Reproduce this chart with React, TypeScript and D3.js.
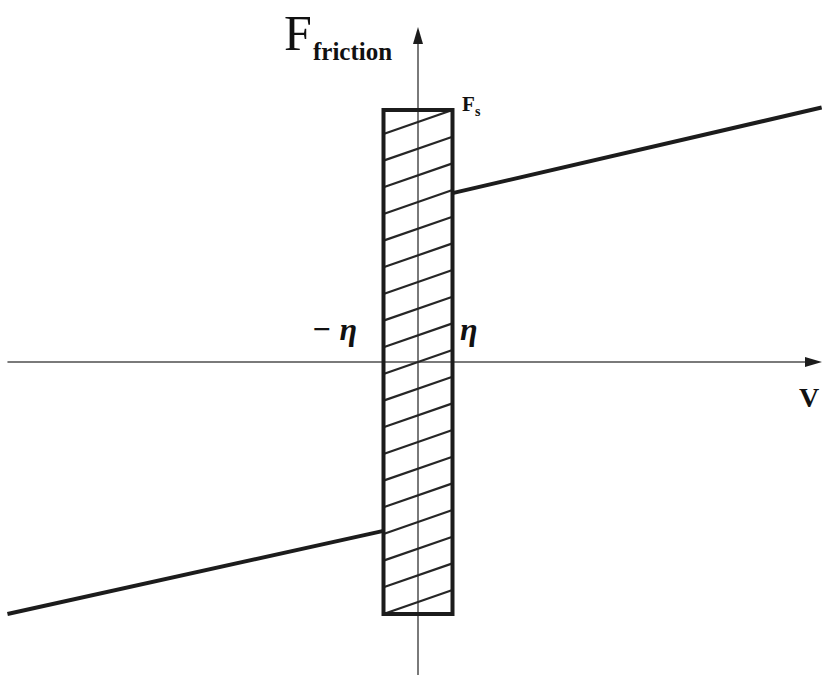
import React from "react";
import * as d3 from "d3";

// Friction model: static band of width 2η and kinetic branches outside it
const velocityExtent: [number, number] = [-11.9, 11.7];
const eta = 1;
const staticFriction = 10; // F_s
const kineticPositive: [number, number][] = [
  [1, 6.7],
  [11.7, 10.1],
];
const kineticNegative: [number, number][] = [
  [-1, -6.7],
  [-11.9, -10],
];
const hatchCount = 19;
const hatchRise = 0.95; // rise of each hatch stroke across the band

const W = 822;
const H = 675;
const serif = "'Liberation Serif', 'Times New Roman', 'DejaVu Serif', serif";

export default function App() {
  const x = d3.scaleLinear().domain([-12, 12]).range([418 - 12 * 34.5, 418 + 12 * 34.5]);
  const y = d3.scaleLinear().domain([-10, 10]).range([614, 110]);
  const line = d3
    .line<[number, number]>()
    .x((d) => x(d[0]))
    .y((d) => y(d[1]));

  const x0 = x(0);
  const y0 = y(0);
  const bx0 = x(-eta);
  const bx1 = x(eta);
  const by0 = y(staticFriction);
  const by1 = y(-staticFriction);

  const step = (2 * staticFriction - hatchRise) / (hatchCount - 1);
  const hatches = d3.range(hatchCount).map((k) => -staticFriction + k * step);

  const axisColor = "#7a7a7a";
  const ink = "#1c1c1c";
  const txt = { fontFamily: serif, fill: "#111" } as React.CSSProperties;

  return (
    <svg
      width={W}
      height={H}
      style={{ position: "absolute", left: 0, top: 0, background: "#fff" }}
    >
      <defs>
        <clipPath id="band">
          <rect x={bx0} y={by0} width={bx1 - bx0} height={by1 - by0} />
        </clipPath>
      </defs>

      {/* axes */}
      <line x1={x(velocityExtent[0])} y1={y0} x2={W - 16} y2={y0} stroke={axisColor} strokeWidth={2} />
      <path d={`M${W},${y0} L${W - 17},${y0 - 5} L${W - 17},${y0 + 5} Z`} fill={ink} />
      <line x1={x0} y1={H} x2={x0} y2={43} stroke={axisColor} strokeWidth={2} />
      <path d={`M${x0},27 L${x0 - 5},44 L${x0 + 5},44 Z`} fill={ink} />

      {/* hatching of the static band */}
      <g clipPath="url(#band)">
        {hatches.map((c, i) => (
          <line
            key={i}
            x1={x(-eta)}
            y1={y(c)}
            x2={x(eta)}
            y2={y(c + hatchRise)}
            stroke="#262626"
            strokeWidth={2.2}
          />
        ))}
      </g>
      <rect
        x={bx0}
        y={by0}
        width={bx1 - bx0}
        height={by1 - by0}
        fill="none"
        stroke={ink}
        strokeWidth={4}
      />

      {/* kinetic friction branches */}
      <path d={line(kineticPositive) || ""} fill="none" stroke={ink} strokeWidth={4} />
      <path d={line(kineticNegative) || ""} fill="none" stroke={ink} strokeWidth={4} />

      {/* labels */}
      <text x={284} y={50} fontSize={50} style={txt}>
        F
      </text>
      <text x={313} y={60} fontSize={25} fontWeight="bold" style={txt}>
        friction
      </text>
      <text x={462} y={111} fontSize={21} fontWeight="bold" style={txt}>
        F
      </text>
      <text x={475} y={116} fontSize={14} fontWeight="bold" style={txt}>
        s
      </text>
      <text x={312} y={340} fontSize={32} fontStyle="italic" fontWeight="bold" style={txt}>
        − η
      </text>
      <text x={460} y={340} fontSize={32} fontStyle="italic" fontWeight="bold" style={txt}>
        η
      </text>
      <text x={799} y={407} fontSize={28} fontWeight="bold" style={txt}>
        V
      </text>
    </svg>
  );
}
